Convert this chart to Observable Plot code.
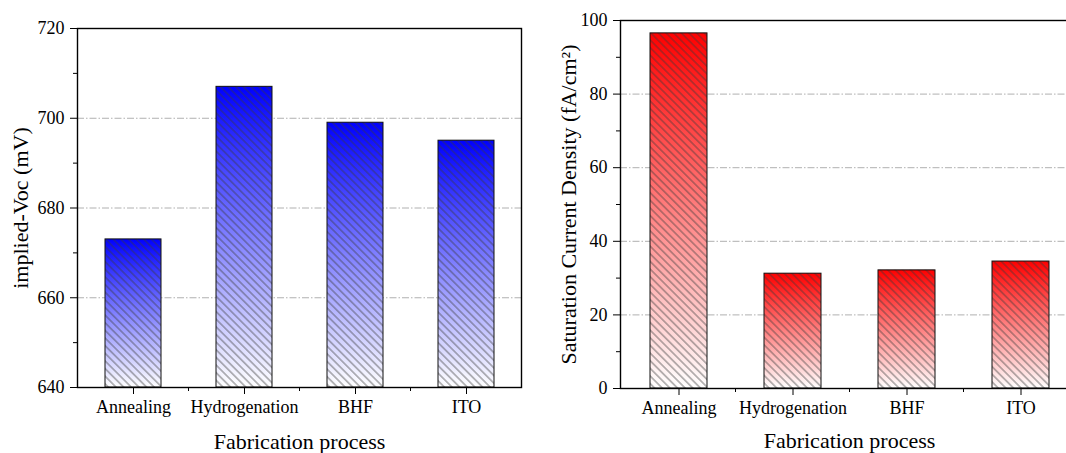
<!DOCTYPE html>
<html><head><meta charset="utf-8">
<script src="https://cdn.jsdelivr.net/npm/d3@7"></script>
<script src="https://cdn.jsdelivr.net/npm/@observablehq/plot@0.6"></script>
<style>
html,body{margin:0;padding:0;background:#fff;overflow:hidden}
#wrap{position:relative;width:1066px;height:453px;overflow:hidden;background:#fff}
#left{position:absolute;left:0;top:0;width:540px;height:453px}
#right{position:absolute;left:530px;top:0;width:568px;height:453px}
#wrap svg{max-width:none !important;display:block;font-family:"Liberation Serif",serif !important}
#wrap svg text, #wrap svg g{font-family:"Liberation Serif",serif !important}
</style></head><body>
<div id="wrap"><div id="left"></div><div id="right"></div></div>
<script>
const processes = ["Annealing", "Hydrogenation", "BHF", "ITO"];
const vocValues = [673, 707, 699, 695];
const j0Values = [96.5, 31.2, 32.1, 34.5];
const vocTicks = [640, 660, 680, 700, 720];
const vocMinorTicks = [650, 670, 690, 710];
const vocGrid = [660, 680, 700];
const j0Ticks = [0, 20, 40, 60, 80, 100];
const j0MinorTicks = [10, 30, 50, 70, 90];
const j0Grid = [20, 40, 60, 80];
const xTitle = "Fabrication process";
const vocTitle = "implied-Voc (mV)";
const j0Title = "Saturation Current Density (fA/cm²)";

const SERIF = "Liberation Serif";

function chart(o) {
  const data = processes.map((p, i) => ({process: p, value: o.values[i]}));
  const plot = Plot.plot({
    width: o.width, height: 453,
    marginLeft: o.ml, marginRight: o.mr, marginTop: o.mt, marginBottom: o.mb,
    style: {fontFamily: SERIF, fontSize: "18px", color: "#000", background: "transparent", overflow: "visible"},
    x: {domain: processes, paddingInner: 0.5, paddingOuter: 0.25},
    y: {domain: o.domain},
    marks: [
      Plot.gridY(o.grid, {stroke: "#b0b0b0", strokeOpacity: 1, strokeWidth: 1, strokeDasharray: "7,2,1.5,2"}),
      Plot.barY(data, {x: "process", y1: o.domain[0], y2: "value", fill: `url(#${o.gradId})`}),
      Plot.barY(data, {x: "process", y1: o.domain[0], y2: "value", fill: `url(#${o.hatchId})`, stroke: "#111", strokeWidth: 1}),
      Plot.axisY(o.ticks, {tickSize: 7, tickPadding: 6, label: null, fontSize: 18}),
      Plot.axisY(o.minor, {tickSize: 4, tickFormat: () => "", label: null}),
      Plot.axisX(processes, {tickSize: 7, tickPadding: 6, label: null, fontSize: 18}),
      Plot.frame({stroke: "#000", strokeWidth: 1.4}),
      Plot.text([xTitle], {frameAnchor: "bottom", dy: o.xTitleDy, fontSize: 22, textAnchor: "middle", lineAnchor: "middle"}),
      Plot.text([o.yTitle], {frameAnchor: "left", dx: o.yTitleDx, rotate: -90, fontSize: 22, textAnchor: "middle", lineAnchor: "middle"})
    ]
  });
  const svg = d3.select(plot);
  const defs = svg.insert("defs", ":first-child");
  const g = defs.append("linearGradient").attr("id", o.gradId)
    .attr("x1", 0).attr("y1", 0).attr("x2", 0).attr("y2", 1);
  g.append("stop").attr("offset", 0).attr("stop-color", o.color);
  g.append("stop").attr("offset", 1).attr("stop-color", "#ffffff");
  const w = 5.4;
  const pat = defs.append("pattern").attr("id", o.hatchId)
    .attr("patternUnits", "userSpaceOnUse").attr("width", w).attr("height", w)
    .attr("patternTransform", "rotate(-45)");
  pat.append("line").attr("x1", w / 2).attr("y1", 0).attr("x2", w / 2).attr("y2", w)
    .attr("stroke", "#3a3a3a").attr("stroke-width", 0.7);
  // minor x ticks at band boundaries, from Plot's x scale
  const sx = plot.scale("x");
  const sy = plot.scale("y");
  const y0 = sy.apply(o.domain[0]);
  const gap = (sx.step - sx.bandwidth) / 2;
  const mt = svg.append("g").attr("stroke", "#000").attr("stroke-width", 1);
  processes.slice(1).forEach(p => {
    const xb = sx.apply(p) - gap;
    mt.append("line").attr("x1", xb).attr("x2", xb).attr("y1", y0).attr("y2", y0 + 4);
  });
  return plot;
}

document.getElementById("left").appendChild(chart({
  values: vocValues, domain: [640, 720], ticks: vocTicks, minor: vocMinorTicks, grid: vocGrid,
  yTitle: vocTitle, gradId: "gradBlue", hatchId: "hatchBlue", color: "#0000ff",
  width: 540, ml: 77, mr: 19, mt: 28, mb: 66, xTitleDy: 54, yTitleDx: -57
}));
document.getElementById("right").appendChild(chart({
  values: j0Values, domain: [0, 100], ticks: j0Ticks, minor: j0MinorTicks, grid: j0Grid,
  yTitle: j0Title, gradId: "gradRed", hatchId: "hatchRed", color: "#ff0000",
  width: 568, ml: 90, mr: 20, mt: 20, mb: 65, xTitleDy: 52, yTitleDx: -52
}));
</script>
</body></html>
